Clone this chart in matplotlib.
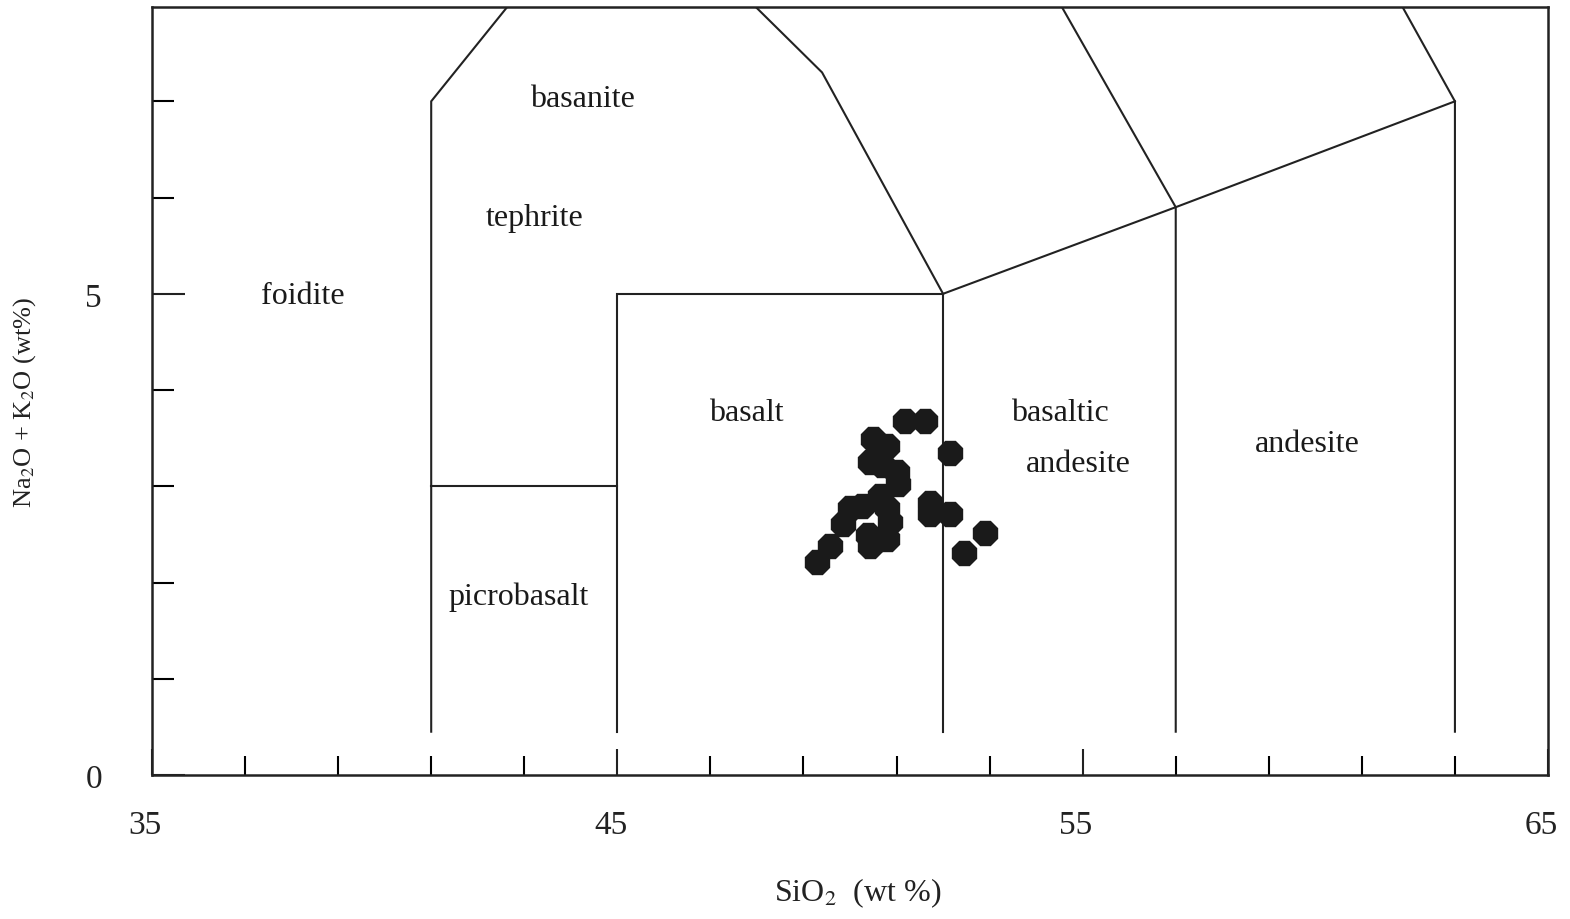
import matplotlib
matplotlib.use("Agg")
import matplotlib.pyplot as plt

plt.rcParams['font.family'] = ['Liberation Serif', 'DejaVu Serif']
plt.rcParams['mathtext.fontset'] = 'stix'

# ---------- data ----------
# sample points (SiO2, Na2O+K2O)
sio2 = [49.29, 49.57, 49.86, 50.00, 50.25, 50.39, 50.43, 50.65, 50.79, 50.86,
        50.79, 50.43, 50.50, 50.79, 50.68, 51.00, 51.04, 51.18, 51.61, 52.14,
        51.72, 51.72, 52.14, 52.90, 52.44]
alk = [2.21, 2.38, 2.61, 2.77, 2.80, 2.49, 2.38, 2.90, 2.77, 2.63,
       2.45, 3.25, 3.49, 3.42, 3.22, 3.15, 3.02, 3.68, 3.68, 3.35,
       2.83, 2.71, 2.71, 2.51, 2.31]

# TAS field boundaries (polylines)
foidite_line = [(41, 0.45), (41, 7), (45, 9.4)]
picro_top = [(41, 3), (45, 3)]
basalt_box = [(45, 0.45), (45, 5), (52, 5), (52, 0.45)]
tephrite_line = [(52, 5), (49.4, 7.3), (45, 9.4)]
bas_andesite_top = [(52, 5), (57, 5.9), (63, 7)]
andesite_left = [(57, 0.45), (57, 5.9), (53, 9.3)]
andesite_right = [(63, 0.45), (63, 7), (57.6, 11.7)]
boundaries = [foidite_line, picro_top, basalt_box, tephrite_line,
              bas_andesite_top, andesite_left, andesite_right]

# field labels
field_names = ["foidite", "basanite", "tephrite", "picrobasalt", "basalt",
               "basaltic", "andesite", "andesite"]
field_x = [38.25, 44.24, 43.23, 42.87, 47.77, 54.51, 54.90, 59.82]
field_y = [4.98, 7.03, 5.79, 1.86, 3.77, 3.77, 3.24, 3.44]

xmajor = [35, 45, 55, 65]
xminor = [37, 39, 41, 43, 47, 49, 51, 53, 57, 59, 61, 63]
ymajor = [0, 5]
yminor = [1, 2, 3, 4, 6, 7]

# ---------- plot ----------
fig = plt.figure(figsize=(15.7, 9.2), dpi=100)
ax = fig.add_axes([152 / 1570, 1 - 776 / 920, 1396 / 1570, 768 / 920])

line_col = '#222222'
for seg in boundaries:
    xs = [p[0] for p in seg]
    ys = [p[1] for p in seg]
    ax.plot(xs, ys, color=line_col, lw=1.5, solid_joinstyle='miter')

ax.plot(sio2, alk, linestyle='none', marker='8', ms=18,
        color='#1a1a1a', mec='#1a1a1a')

for name, x, y in zip(field_names, field_x, field_y):
    ax.text(x, y, name, ha='center', va='center', fontsize=23, color='#1a1a1a')

ax.set_xlim(35, 65)
ax.set_ylim(0, 7.98)

ax.set_xticks(xmajor)
ax.set_xticks(xminor, minor=True)
ax.set_yticks(ymajor)
ax.set_yticks(yminor, minor=True)
ax.set_xticklabels([str(v) for v in xmajor])
ax.set_yticklabels([str(v) for v in ymajor])

ax.tick_params(axis='x', which='major', direction='in', length=19, width=1.5,
               pad=25, labelsize=24, colors='#222222')
ax.tick_params(axis='x', which='minor', direction='in', length=14, width=1.5)
ax.tick_params(axis='y', which='major', direction='in', length=24, width=1.5,
               pad=36, labelsize=24, colors='#222222')
ax.tick_params(axis='y', which='minor', direction='in', length=16, width=1.5)

# tick labels in the original sit slightly left of their ticks
for lbl in ax.get_xticklabels():
    lbl.set_horizontalalignment('right')
    lbl.set_x(lbl.get_position()[0])
import matplotlib.transforms as mtransforms
offset = mtransforms.ScaledTranslation(10 / 100, 0, fig.dpi_scale_trans)
for lbl in ax.get_xticklabels():
    lbl.set_transform(lbl.get_transform() + offset)

for side in ['top', 'right', 'left', 'bottom']:
    ax.spines[side].set_linewidth(1.8)
    ax.spines[side].set_color('#222222')

ax.set_xlabel(r"SiO$_2$  (wt %)", fontsize=23, color='#222222')
ax.set_ylabel(r"Na$_2$O + K$_2$O (wt%)", fontsize=19, color='#222222')
ax.xaxis.set_label_coords((858 - 152) / 1396, (776 - 893) / 768)
ax.yaxis.set_label_coords((25 - 152) / 1396, (776 - 402) / 768)
ax.xaxis.label.set_va('center')
ax.yaxis.label.set_va('center')

fig.savefig("out.png", dpi=100, facecolor='white')
